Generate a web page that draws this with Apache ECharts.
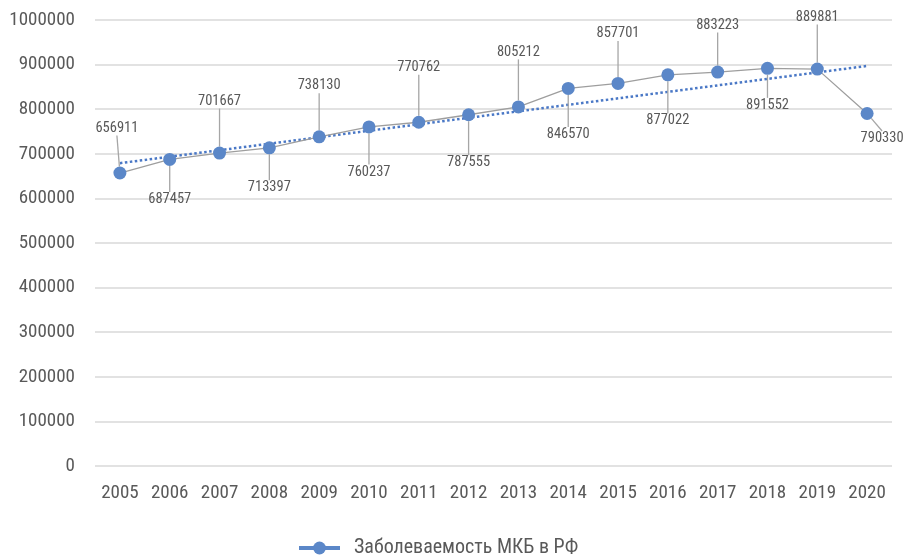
<!DOCTYPE html>
<html>
<head>
<meta charset="utf-8">
<script src="https://cdn.jsdelivr.net/npm/echarts@6/dist/echarts.min.js"></script>
<style>
  html, body { margin: 0; padding: 0; background: #fff; }
  #chart { width: 905px; height: 558px; }
</style>
</head>
<body>
<div id="chart"></div>
<script>
const years = ['2005', '2006', '2007', '2008', '2009', '2010', '2011', '2012',
  '2013', '2014', '2015', '2016', '2017', '2018', '2019', '2020'];
const cases = [656911, 687457, 701667, 713397, 738130, 760237, 770762, 787555,
  805212, 846570, 857701, 877022, 883223, 891552, 889881, 790330];
// linear trend, ends
const trendStart = 679000;
const trendEnd = 897000;
const seriesName = 'Заболеваемость МКБ в РФ';

// where each data label sits relative to its point (px)
const labelDx = [-3, 0, 0, 0, 0, 0, 0, 0, 0, 0, 0, 0, 0, 0, 0, 15];
const labelDy = [-45, 40, -52, 40, -51, 45, -55, 48, -55, 46, -50, 46, -47, 37, -52, 25];

const trendData = years.map((y, i) => i === 0 ? trendStart : (i === years.length - 1 ? trendEnd : null));

const font = '"Roboto Condensed", "Liberation Sans Narrow", "DejaVu Sans Condensed", sans-serif';

const chart = echarts.init(document.getElementById('chart'));
chart.setOption({
  animation: false,
  textStyle: { fontFamily: font },
  grid: { left: 95, right: 13, top: 20, bottom: 92 },
  legend: {
    top: 533,
    left: 292,
    itemWidth: 41,
    itemHeight: 16,
    textStyle: { fontSize: 20, color: '#595959', fontFamily: font, padding: [0, 0, 0, 9] },
    data: [{
      name: seriesName,
      itemStyle: { color: '#5B87C8' },
      lineStyle: { color: '#5B87C8', width: 4 }
    }]
  },
  xAxis: {
    type: 'category',
    data: years,
    axisLine: { show: false },
    axisTick: { show: false },
    axisLabel: { color: '#595959', fontSize: 19, margin: 18, fontFamily: font }
  },
  yAxis: {
    type: 'value',
    min: 0,
    max: 1000000,
    interval: 100000,
    axisLabel: { color: '#595959', fontSize: 19, margin: 20, fontFamily: font, formatter: v => String(v) },
    splitLine: { lineStyle: { color: '#D9D9D9', width: 1.5 } }
  },
  series: [
    {
      name: 'trend',
      type: 'line',
      data: trendData,
      connectNulls: true,
      symbol: 'none',
      z: 2,
      lineStyle: { color: '#4A78C6', width: 2.5, type: [2.5, 2.5] }
    },
    {
      name: seriesName,
      type: 'line',
      data: cases,
      symbol: 'circle',
      symbolSize: 13,
      z: 3,
      itemStyle: { color: '#5B87C8' },
      lineStyle: { color: '#9E9E9E', width: 1.3 },
      label: {
        show: true,
        position: 'inside',
        color: '#595959',
        fontSize: 14.5,
        fontFamily: font,
        formatter: p => String(p.value)
      },
      labelLine: {
        show: true,
        lineStyle: { color: '#A6A6A6', width: 1.3 }
      },
      labelLayout: p => ({ dx: labelDx[p.dataIndex], dy: labelDy[p.dataIndex] })
    }
  ]
});
</script>
</body>
</html>
